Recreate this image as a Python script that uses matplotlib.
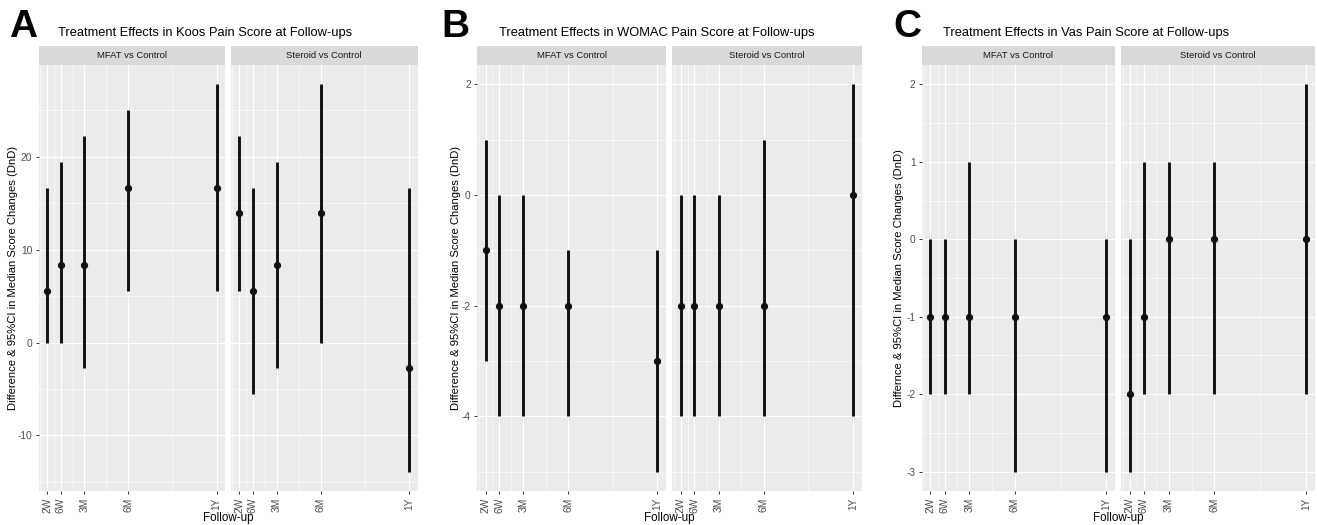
import matplotlib
matplotlib.use('Agg')
import matplotlib.pyplot as plt
import numpy as np

plt.rcParams['font.family'] = ['Liberation Sans', 'DejaVu Sans']
plt.rcParams['axes.unicode_minus'] = False

# follow-up times in weeks and their labels
weeks = [2, 6, 13, 26, 52]
week_labels = ['2W', '6W', '3M', '6M', '1Y']
facets = ['MFAT vs Control', 'Steroid vs Control']

# Koos pain score
koos_mfat_est = [5.56, 8.33, 8.33, 16.67, 16.67]
koos_mfat_lo = [0.0, 0.0, -2.78, 5.56, 5.56]
koos_mfat_hi = [16.67, 19.44, 22.22, 25.0, 27.78]
koos_ster_est = [13.89, 5.56, 8.33, 13.89, -2.78]
koos_ster_lo = [5.56, -5.56, -2.78, 0.0, -13.89]
koos_ster_hi = [22.22, 16.67, 19.44, 27.78, 16.67]

# WOMAC pain score
womac_mfat_est = [-1, -2, -2, -2, -3]
womac_mfat_lo = [-3, -4, -4, -4, -5]
womac_mfat_hi = [1, 0, 0, -1, -1]
womac_ster_est = [-2, -2, -2, -2, 0]
womac_ster_lo = [-4, -4, -4, -4, -4]
womac_ster_hi = [0, 0, 0, 1, 2]

# VAS pain score
vas_mfat_est = [-1, -1, -1, -1, -1]
vas_mfat_lo = [-2, -2, -2, -3, -3]
vas_mfat_hi = [0, 0, 1, 0, 0]
vas_ster_est = [-2, -1, 0, 0, 0]
vas_ster_lo = [-3, -2, -2, -2, -2]
vas_ster_hi = [0, 1, 1, 1, 2]

W, H = 1317, 525
fig = plt.figure(figsize=(W / 100, H / 100), dpi=100)


def box(x0, x1, y0, y1):
    return [x0 / W, 1 - y1 / H, (x1 - x0) / W, (y1 - y0) / H]


panels = [
    dict(letter='A', title='Treatment Effects in Koos Pain Score at Follow-ups',
         ylabel='Difference & 95%CI in Median Score Changes (DnD)',
         data=[(koos_mfat_est, koos_mfat_lo, koos_mfat_hi),
               (koos_ster_est, koos_ster_lo, koos_ster_hi)],
         yticks=[-10, 0, 10, 20], yminor=[-15, -5, 5, 15, 25],
         xs=[(38.7, 225), (230.5, 418)], letter_x=9, title_x=58, ylab_x=13),
    dict(letter='B', title='Treatment Effects in WOMAC Pain Score at Follow-ups',
         ylabel='Difference & 95%CI in Median Score Changes (DnD)',
         data=[(womac_mfat_est, womac_mfat_lo, womac_mfat_hi),
               (womac_ster_est, womac_ster_lo, womac_ster_hi)],
         yticks=[-4, -2, 0, 2], yminor=[-5, -3, -1, 1],
         xs=[(477, 666), (672, 862)], letter_x=441, title_x=499, ylab_x=456),
    dict(letter='C', title='Treatment Effects in Vas Pain Score at Follow-ups',
         ylabel='Differnce & 95%CI in Median Score Changes (DnD)',
         data=[(vas_mfat_est, vas_mfat_lo, vas_mfat_hi),
               (vas_ster_est, vas_ster_lo, vas_ster_hi)],
         yticks=[-3, -2, -1, 0, 1, 2], yminor=[-2.5, -1.5, -0.5, 0.5, 1.5],
         xs=[(921.7, 1115), (1121, 1315)], letter_x=893, title_x=943, ylab_x=899),
]

y_top, y_bot = 65, 491
strip_top = 46
xminor = [0, 4, 9.5, 19.5, 39]

for p in panels:
    lows = np.concatenate([np.array(d[1]) for d in p['data']])
    highs = np.concatenate([np.array(d[2]) for d in p['data']])
    ymin, ymax = lows.min(), highs.max()
    pad = (ymax - ymin) * 0.05
    ylim = (ymin - pad, ymax + pad)
    xlim = (2 - 2.5, 52 + 2.5)

    for i, ((x0, x1), (est, lo, hi)) in enumerate(zip(p['xs'], p['data'])):
        ax = fig.add_axes(box(x0, x1, y_top, y_bot))
        ax.set_facecolor('#EBEBEB')
        for s in ax.spines.values():
            s.set_visible(False)
        ax.set_xlim(*xlim)
        ax.set_ylim(*ylim)
        ax.set_xticks(weeks)
        ax.set_xticklabels(week_labels, rotation=90)
        ax.set_xticks(xminor, minor=True)
        ax.set_yticks(p['yticks'])
        ax.set_yticks(p['yminor'], minor=True)
        ax.grid(which='major', color='white', linewidth=0.85)
        ax.grid(which='minor', color='white', linewidth=0.4)
        ax.set_axisbelow(True)
        ax.tick_params(which='minor', length=0)
        ax.tick_params(which='major', length=2.5, width=0.7, color='#333333',
                       labelsize=7.4, labelcolor='#4D4D4D', pad=2)
        if i > 0:
            ax.tick_params(axis='y', left=False, labelleft=False)
        ax.vlines(weeks, lo, hi, color='#111111', linewidth=2.1)
        ax.plot(weeks, est, 'o', color='#111111', markersize=4.2)

        sax = fig.add_axes(box(x0, x1, strip_top, y_top))
        sax.set_facecolor('#D9D9D9')
        sax.set_xticks([])
        sax.set_yticks([])
        for s in sax.spines.values():
            s.set_visible(False)
        sax.text(0.5, 0.5, facets[i], ha='center', va='center', fontsize=6.8,
                 color='#1A1A1A', transform=sax.transAxes)

    cx = (p['xs'][0][0] + p['xs'][1][1]) / 2
    fig.text(cx / W, 1 - 518.5 / H, 'Follow-up', ha='center', va='center',
             fontsize=8.4, color='black')
    fig.text(p['ylab_x'] / W, 1 - (y_top + y_bot) / 2 / H, p['ylabel'],
             rotation=90, ha='center', va='center', fontsize=8.1)
    fig.text(p['title_x'] / W, 1 - 33 / H, p['title'], ha='left', va='center',
             fontsize=9.3)
    fig.text(p['letter_x'] / W, 1 - 27 / H, p['letter'], ha='left', va='center',
             fontsize=28, fontweight='bold')

fig.savefig('out.png', dpi=100)
